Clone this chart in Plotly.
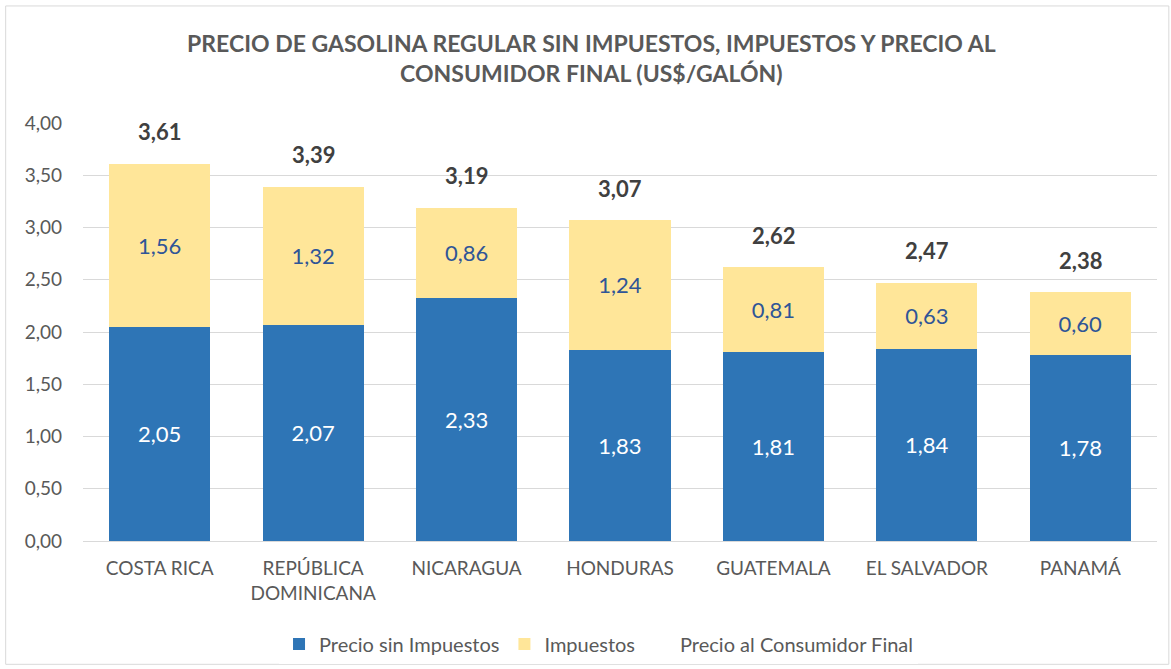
import plotly.graph_objects as go

paises = ["COSTA RICA", "REPÚBLICA<br>DOMINICANA", "NICARAGUA", "HONDURAS",
          "GUATEMALA", "EL SALVADOR", "PANAMÁ"]
precio_sin_impuestos = [2.05, 2.07, 2.33, 1.83, 1.81, 1.84, 1.78]
impuestos = [1.56, 1.32, 0.86, 1.24, 0.81, 0.63, 0.60]
precio_final = [3.61, 3.39, 3.19, 3.07, 2.62, 2.47, 2.38]
y_ticks = [0, 0.5, 1.0, 1.5, 2.0, 2.5, 3.0, 3.5, 4.0]

FONT = "Lato"

fig = go.Figure()
fig.add_trace(go.Bar(
    x=paises, y=precio_sin_impuestos, name="Precio sin Impuestos",
    marker=dict(color="#2E75B6", line=dict(width=0)),
    texttemplate="%{y:.2f}", textposition="inside", insidetextanchor="middle",
    textfont=dict(color="white", size=22, family=FONT),
))
fig.add_trace(go.Bar(
    x=paises, y=impuestos, name="Impuestos",
    marker=dict(color="#FFE699", line=dict(width=0)),
    texttemplate="%{y:.2f}", textposition="inside", insidetextanchor="middle",
    textfont=dict(color="#2F5597", size=22, family=FONT),
))
# legend entry without visible symbol
fig.add_trace(go.Scatter(
    x=[paises[0]], y=[None], name="Precio al Consumidor Final",
    mode="lines", line=dict(color="rgba(0,0,0,0)"), showlegend=True,
))

annotations = [
    dict(x=p, y=v, xref="x", yref="y", text=f"<b>{v:.2f}</b>".replace(".", ","),
         showarrow=False, yanchor="middle", yshift=32,
         font=dict(color="#404040", size=22, family=FONT))
    for p, v in zip(paises, precio_final)
]

fig.update_layout(
    barmode="stack", bargap=0.34, separators=",.",
    width=1171, height=669,
    margin=dict(l=83, r=14, t=123, b=128, autoexpand=False),
    paper_bgcolor="white", plot_bgcolor="white",
    font=dict(family=FONT, color="#595959", size=19),
    title=dict(
        text="<b>PRECIO DE GASOLINA REGULAR SIN IMPUESTOS, IMPUESTOS Y PRECIO AL<br>CONSUMIDOR FINAL (US$/GALÓN)</b>",
        x=0.505, xanchor="center", y=0.922, yanchor="top",
        font=dict(size=23, color="#595959", family=FONT),
    ),
    legend=dict(orientation="h", x=0.48, xanchor="center", y=-0.2, yanchor="top",
                font=dict(size=20, color="#595959", family=FONT),
                itemwidth=30, traceorder="normal"),
    xaxis=dict(showline=True, linecolor="#D9D9D9", linewidth=1, ticks="",
               tickfont=dict(size=19, color="#595959", family=FONT),
               ticklabelstandoff=10),
    yaxis=dict(range=[0, 4], tickvals=y_ticks, tickformat=".2f",
               showgrid=True, gridcolor="#D9D9D9", gridwidth=1, zeroline=False,
               tickfont=dict(size=19, color="#595959", family=FONT), ticks="",
               ticklabelstandoff=20),
    annotations=annotations,
    shapes=[dict(type="rect", xref="paper", yref="paper", x0=-0.072, x1=1.011,
                 y0=-0.295, y1=1.28, line=dict(color="#D9D9D9", width=1))],
)
fig.update_traces(selector=dict(type="bar"), textangle=0)
fig.write_html("out.html", config={"displayModeBar": False},
               post_script="document.body.style.margin='0';document.body.style.padding='0';")
